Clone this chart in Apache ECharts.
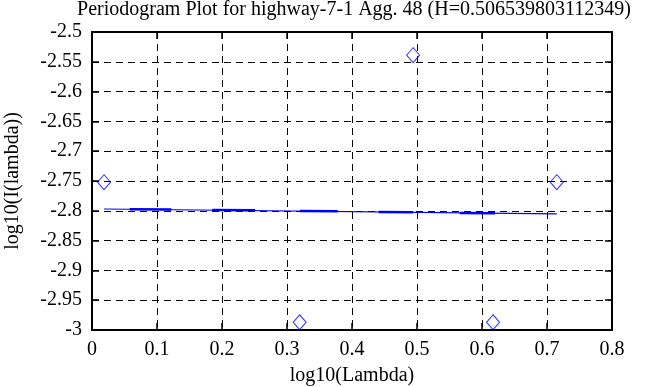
<!DOCTYPE html>
<html><head><meta charset="utf-8">
<script src="https://cdn.jsdelivr.net/npm/echarts@6/dist/echarts.min.js"></script>
<style>html,body{margin:0;padding:0;background:#fff}#c{width:668px;height:387px}</style>
</head><body><div id="c"></div>
<script>
var titleText = 'Periodogram Plot for highway-7-1 Agg. 48 (H=0.506539803112349)';
var xName = 'log10(Lambda)';
var yName = 'log10(I(lambda))';
// periodogram points [log10(lambda), log10(I(lambda))]
var pointsX = [0.0185, 0.3195, 0.494, 0.617, 0.715];
var pointsY = [-2.752, -2.987, -2.539, -2.987, -2.752];
// fitted line endpoints
var fitX = [0.0185, 0.715];
var fitY = [-2.797, -2.805];
// thicker pieces of fit line
var segX = [[0.058, 0.122], [0.185, 0.251], [0.32, 0.378], [0.441, 0.494], [0.566, 0.62]];
var segY = [[-2.7975, -2.7978], [-2.7988, -2.7992], [-2.8005, -2.8009], [-2.8022, -2.8025], [-2.8038, -2.8042]];

var font = 'Liberation Serif';
var fs = 20;
var pts = pointsX.map(function(x,i){return [x, pointsY[i]];});
var fit = fitX.map(function(x,i){return [x, fitY[i]];});
var segSeries = segX.map(function(s,i){
  return {type:'line', data:[[s[0],segY[i][0]],[s[1],segY[i][1]]],
    symbol:'none', lineStyle:{color:'#0000ff', width:2.5}, silent:true, z:3};
});
var chart = echarts.init(document.getElementById('c'), null, {renderer:'canvas'});
var gridDash = {show:true, lineStyle:{color:'#000', type:[7,5], width:1}};
chart.setOption({
  animation:false,
  title:{text:titleText, left:354, top:0, padding:0, textAlign:'center',
    textStyle:{fontFamily:font, fontSize:fs, fontWeight:'normal', color:'#000'}},
  grid:{left:92, right:56, top:32, bottom:57, containLabel:false, outerBoundsMode:'none'},
  xAxis:[
    {type:'value', min:0, max:0.8, interval:0.1, name:xName, nameLocation:'middle', nameGap:36,
     nameTextStyle:{fontFamily:font, fontSize:fs, color:'#000'},
     axisLine:{show:true, onZero:false, lineStyle:{color:'#000', width:2}},
     axisTick:{show:true, inside:true, length:7, lineStyle:{color:'#000', width:1.5}},
     axisLabel:{fontFamily:font, fontSize:fs, color:'#000', margin:10},
     splitLine:gridDash},
    {type:'value', position:'top', min:0, max:0.8, interval:0.1,
     axisLine:{show:true, onZero:false, lineStyle:{color:'#000', width:2}},
     axisTick:{show:true, inside:true, length:7, lineStyle:{color:'#000', width:1.5}},
     axisLabel:{show:false}, splitLine:{show:false}}
  ],
  yAxis:[
    {type:'value', min:-3, max:-2.5, interval:0.05, name:yName, nameLocation:'middle', nameGap:69,
     nameTextStyle:{fontFamily:font, fontSize:fs, color:'#000'},
     axisLine:{show:true, onZero:false, lineStyle:{color:'#000', width:2}},
     axisTick:{show:true, inside:true, length:7, lineStyle:{color:'#000', width:1.5}},
     axisLabel:{fontFamily:font, fontSize:fs, color:'#000', margin:10},
     splitLine:gridDash},
    {type:'value', position:'right', min:-3, max:-2.5, interval:0.05,
     axisLine:{show:true, onZero:false, lineStyle:{color:'#000', width:2}},
     axisTick:{show:true, inside:true, length:7, lineStyle:{color:'#000', width:1.5}},
     axisLabel:{show:false}, splitLine:{show:false}}
  ],
  series:[
    {type:'scatter', data:pts, symbol:'diamond', symbolSize:[13,15],
     itemStyle:{color:'transparent', borderColor:'#0000ff', borderWidth:1}, z:4},
    {type:'line', data:fit, symbol:'none', lineStyle:{color:'#0000ff', width:1.2}, z:3}
  ].concat(segSeries)
});
</script></body></html>
